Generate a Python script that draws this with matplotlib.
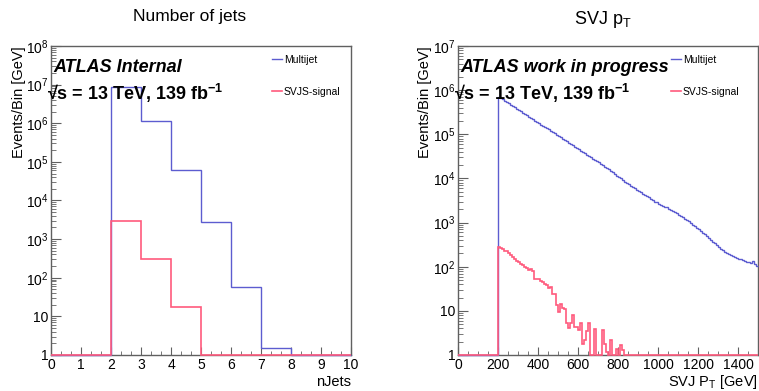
import numpy as np
import matplotlib
matplotlib.use("Agg")
import matplotlib.pyplot as plt
from matplotlib.ticker import FuncFormatter, LogLocator, NullFormatter, MultipleLocator

plt.rcParams['font.family'] = ['Liberation Sans', 'DejaVu Sans']
plt.rcParams['mathtext.fontset'] = 'custom'
plt.rcParams['mathtext.rm'] = 'Liberation Sans'
plt.rcParams['mathtext.it'] = 'Liberation Sans:italic'
plt.rcParams['mathtext.bf'] = 'Liberation Sans:bold'

# ---------------- data ----------------
njet_edges = [0, 1, 2, 3, 4, 5, 6, 7, 8, 9, 10]
njet_multijet = [0, 0, 8.5e6, 1.17e6, 6.2e4, 2.7e3, 59, 1.5, 0, 0]
njet_signal = [0, 0, 3000, 310, 18, 0, 0, 0, 0, 0]

pt_bin_width = 10
pt_low_edge = 0
pt_high_edge = 1500
# bins 0..190 GeV empty for both samples
pt_multijet = [0] * 20 + [
    7.1e5, 6.6e5, 6.2e5, 5.75e5, 5.4e5, 5.0e5, 4.7e5, 4.35e5, 4.1e5, 3.8e5,
    3.55e5, 3.3e5, 3.1e5, 2.9e5, 2.7e5, 2.5e5, 2.35e5, 2.2e5, 2.05e5, 1.9e5,
    1.78e5, 1.66e5, 1.55e5, 1.45e5, 1.36e5, 1.29e5, 1.2e5, 1.12e5, 1.05e5, 9.8e4,
    9.1e4, 8.5e4, 7.9e4, 7.4e4, 6.9e4, 6.5e4, 6.0e4, 5.6e4, 5.25e4, 4.9e4,
    4.55e4, 4.25e4, 4.0e4, 3.7e4, 3.45e4, 3.25e4, 3.0e4, 2.8e4, 2.6e4, 2.45e4,
    2.3e4, 2.15e4, 2.0e4, 1.85e4, 1.72e4, 1.6e4, 1.48e4, 1.37e4, 1.26e4, 1.16e4,
    1.07e4, 1.0e4, 9.2e3, 8.5e3, 7.9e3, 7.4e3, 6.9e3, 6.5e3, 6.0e3, 5.6e3,
    5.25e3, 4.9e3, 4.55e3, 4.25e3, 4.0e3, 3.7e3, 3.45e3, 3.25e3, 3.0e3, 2.85e3,
    2.7e3, 2.55e3, 2.4e3, 2.3e3, 2.2e3, 2.07e3, 1.95e3, 1.85e3, 1.74e3, 1.62e3,
    1.51e3, 1.41e3, 1.32e3, 1.23e3, 1.15e3, 1.06e3, 980, 900, 830, 770,
    710, 645, 590, 537, 490, 447, 407, 372, 339, 309,
    282, 257, 234, 219, 204, 193, 182, 174, 166, 158,
    151, 146, 141, 135, 130, 126, 123, 135, 115, 102,
]
pt_signal = [0] * 20 + [
    282, 263, 251, 229, 224, 200, 186, 166, 151, 132,
    126, 115, 110, 100, 95, 85, 89, 79, 54, 54,
    52, 48, 46, 40, 38, 33, 35, 24, 24, 13.5,
    9.5, 14.5, 11.5, 11.2, 5.4, 4.0, 5.4, 8.1, 4.4, 4.4,
    3.7, 5.2, 1.8, 2.2, 3.5, 5.2, 0, 0, 3.8, 0,
    0, 0, 3.7, 1.8, 1.2, 0, 2.2, 0, 0, 1.35,
    0, 1.7, 1.3, 0,
]
pt_signal = pt_signal + [0] * (150 - len(pt_signal))

blue = '#5c5cd0'
pink = '#ff5a7d'
gray = '#606060'

W, H = 759, 391
fig = plt.figure(figsize=(W / 100, H / 100), dpi=100)

def px_axes(x0, x1, ytop, ybot):
    return fig.add_axes([x0 / W, 1 - ybot / H, (x1 - x0) / W, (ybot - ytop) / H])

def ylab(v, pos):
    if v <= 0:
        return ''
    e = int(round(np.log10(v)))
    if abs(np.log10(v) - e) > 1e-6:
        return ''
    if e == 0:
        return '1'
    if e == 1:
        return '10'
    return r'$\mathregular{10^{%d}}$' % e

def style(ax, ymax):
    ax.set_yscale('log')
    ax.set_ylim(1, ymax)
    ax.yaxis.set_major_locator(LogLocator(base=10, numticks=20))
    ax.yaxis.set_minor_locator(LogLocator(base=10, subs=np.arange(2, 10), numticks=100))
    ax.yaxis.set_major_formatter(FuncFormatter(ylab))
    ax.yaxis.set_minor_formatter(NullFormatter())
    ax.tick_params(which='both', direction='in', colors=gray, labelcolor='black',
                   labelsize=10, top=False, right=False)
    ax.tick_params(axis='y', which='major', length=7, pad=2)
    ax.tick_params(axis='y', which='minor', length=3.5)
    ax.tick_params(axis='x', which='major', length=6, pad=2)
    ax.tick_params(axis='x', which='minor', length=3)
    for s in ax.spines.values():
        s.set_color(gray)
        s.set_linewidth(1.0)

# ---------------- left: number of jets ----------------
ax1 = px_axes(51, 351, 46, 355)
e1 = np.array(njet_edges, dtype=float)
ax1.stairs(np.maximum(njet_multijet, 1), e1, baseline=None, color=blue, lw=1.0,
           clip_on=False, zorder=3, label='Multijet')
ax1.stairs(np.maximum(njet_signal, 1), e1, baseline=None, color=pink, lw=1.2,
           clip_on=False, zorder=4, label='SVJS-signal')
ax1.set_xlim(0, 10)
style(ax1, 1e8)
ax1.xaxis.set_major_locator(MultipleLocator(1))
ax1.xaxis.set_minor_locator(MultipleLocator(1 / 3))

# ---------------- right: SVJ pT ----------------
ax2 = px_axes(458, 758, 46, 355)
e2 = np.arange(pt_low_edge, pt_high_edge + pt_bin_width, pt_bin_width, dtype=float)
ax2.stairs(np.maximum(pt_multijet, 1), e2, baseline=None, color=blue, lw=1.0,
           clip_on=False, zorder=3, label='Multijet')
ax2.stairs(np.maximum(pt_signal, 1), e2, baseline=None, color=pink, lw=1.2,
           clip_on=False, zorder=4, label='SVJS-signal')
ax2.set_xlim(0, 1500)
style(ax2, 1e7)
ax2.xaxis.set_major_locator(MultipleLocator(200))
ax2.xaxis.set_minor_locator(MultipleLocator(50))

for ax, lx in ((ax1, (272 - 51) / 300), (ax2, (671 - 458) / 300)):
    ax.legend(loc='upper left', bbox_to_anchor=(lx, 1 - 9 / 309),
              frameon=False, fontsize=7.5, handlelength=1.0, handletextpad=0.15,
              labelspacing=2.1, borderaxespad=0, borderpad=0)

# axis labels
for ax, xl, ylx in ((ax1, 'nJets', (26 - 51) / 300),
                    (ax2, r'SVJ P$_\mathrm{T}$ [GeV]', (432 - 458) / 300)):
    ax.set_ylabel('Events/Bin [GeV]', loc='top', fontsize=10.5)
    ax.yaxis.set_label_coords(ylx, 1.0)
    ax.set_xlabel(xl, loc='right', fontsize=10.5)
    ax.xaxis.set_label_coords(1.0, -(382 - 355) / 309)
    ax.xaxis.label.set_va('center')

# ---------------- texts ----------------
fig.text(190 / W, 1 - 17 / H, 'Number of jets', ha='center', va='center', fontsize=12.5)
fig.text(603 / W, 1 - 19 / H, r'SVJ p$_\mathrm{T}$', ha='center', va='center', fontsize=13)

for x_at, x_rt, lab in ((53, 47, 'ATLAS Internal'), (460, 454, 'ATLAS work in progress')):
    fig.text(x_at / W, 1 - 67 / H, lab, ha='left', va='center', fontsize=13,
             fontweight='bold', fontstyle='italic')
    fig.text(x_rt / W, 1 - 93 / H, r'√s = 13 TeV, 139 fb$^{\mathbf{-1}}$', ha='left',
             va='center', fontsize=13, fontweight='bold')

fig.savefig('out.png', dpi=100)
